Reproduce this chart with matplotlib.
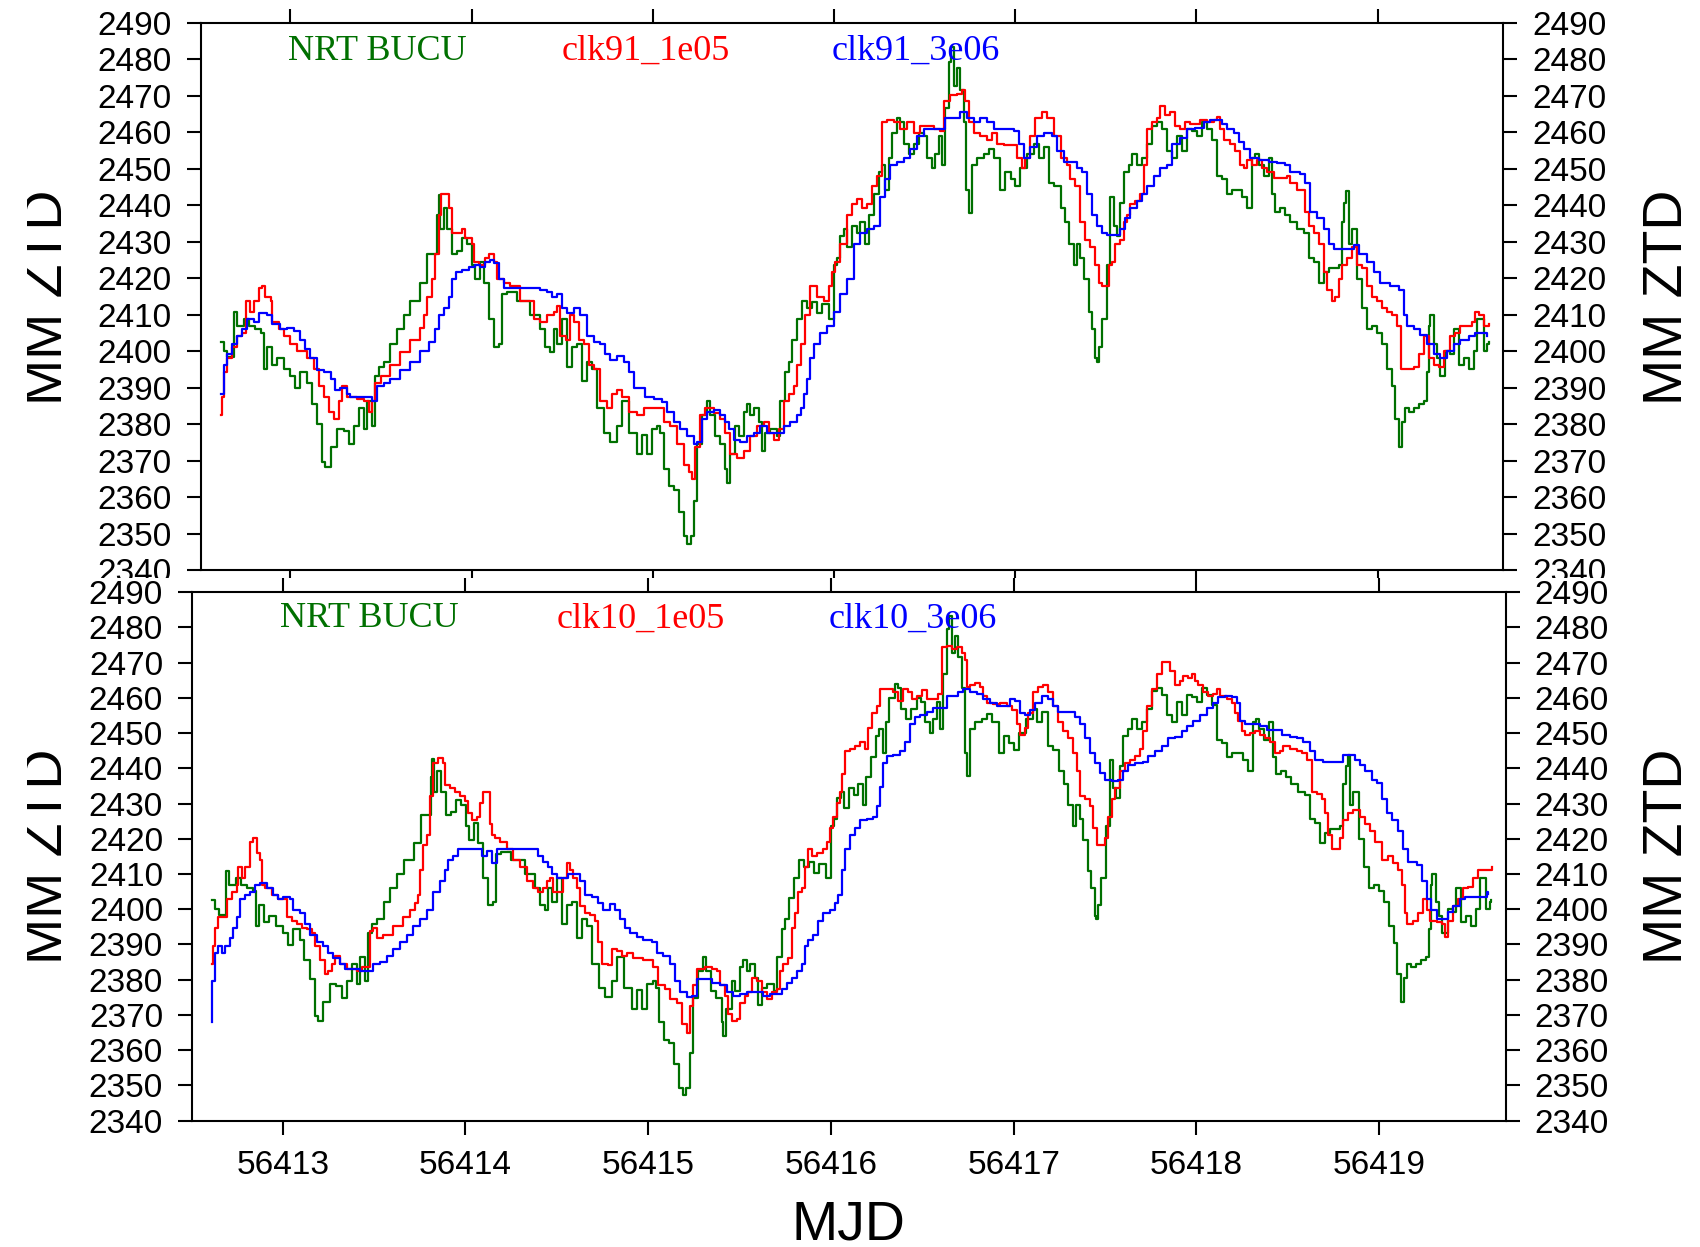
#!/usr/bin/env python3
"""
ZTD comparison at BUCU: NRT solution vs. two clock-constraint runs,
clk91 (top panel) and clk10 (bottom panel). Writes out.png.
"""

import numpy as np
import matplotlib
matplotlib.use("Agg")
import matplotlib.pyplot as plt
from matplotlib.patches import Rectangle
from matplotlib.ticker import FormatStrFormatter

plt.rcParams["font.family"] = ["Liberation Sans", "DejaVu Sans"]

# ---- data: (MJD, ZTD mm) ----
nrt_bucu = [
    (56412.614, 2402.6), (56412.632, 2400.2), (56412.650, 2398.5), (56412.687, 2410.9),
    (56412.706, 2407.0), (56412.743, 2409.0), (56412.770, 2407.0), (56412.807, 2406.0),
    (56412.835, 2405.1), (56412.853, 2395.3), (56412.871, 2401.2), (56412.899, 2396.3),
    (56412.926, 2398.2), (56412.963, 2395.3), (56413.000, 2393.3), (56413.027, 2389.9),
    (56413.055, 2394.3), (56413.092, 2391.4), (56413.119, 2385.5), (56413.147, 2380.1),
    (56413.175, 2369.8), (56413.193, 2368.4), (56413.221, 2373.8), (56413.257, 2378.7),
    (56413.294, 2378.2), (56413.322, 2374.7), (56413.350, 2379.6), (56413.377, 2384.5),
    (56413.405, 2378.7), (56413.423, 2386.5), (56413.451, 2379.6), (56413.469, 2393.3),
    (56413.488, 2395.8), (56413.515, 2397.2), (56413.552, 2402.1), (56413.589, 2406.0),
    (56413.625, 2410.0), (56413.662, 2413.9), (56413.717, 2418.8), (56413.754, 2426.6),
    (56413.791, 2426.6), (56413.809, 2437.4), (56413.819, 2442.7), (56413.828, 2433.4),
    (56413.846, 2439.3), (56413.865, 2433.4), (56413.892, 2426.6), (56413.920, 2427.6),
    (56413.947, 2431.0), (56413.975, 2429.5), (56414.002, 2423.7), (56414.021, 2419.7),
    (56414.048, 2424.6), (56414.067, 2418.8), (56414.094, 2409.0), (56414.122, 2401.2),
    (56414.150, 2402.1), (56414.168, 2415.8), (56414.196, 2416.3), (56414.251, 2413.9),
    (56414.324, 2410.0), (56414.380, 2406.0), (56414.407, 2401.2), (56414.435, 2399.7),
    (56414.453, 2406.0), (56414.472, 2402.1), (56414.499, 2409.0), (56414.527, 2395.8),
    (56414.554, 2401.2), (56414.582, 2402.1), (56414.609, 2391.9), (56414.637, 2397.2),
    (56414.665, 2395.3), (56414.692, 2384.5), (56414.729, 2377.7), (56414.766, 2375.2),
    (56414.803, 2379.6), (56414.830, 2386.5), (56414.867, 2377.7), (56414.913, 2371.8),
    (56414.941, 2377.2), (56414.968, 2371.8), (56414.996, 2378.7), (56415.024, 2379.6),
    (56415.042, 2377.7), (56415.060, 2367.9), (56415.088, 2363.0), (56415.116, 2362.0),
    (56415.143, 2356.1), (56415.171, 2349.3), (56415.189, 2347.3), (56415.208, 2349.3),
    (56415.226, 2359.1), (56415.244, 2374.7), (56415.272, 2382.6), (56415.299, 2386.5),
    (56415.318, 2382.6), (56415.345, 2376.7), (56415.373, 2374.7), (56415.401, 2367.9),
    (56415.410, 2364.0), (56415.428, 2371.8), (56415.456, 2379.6), (56415.474, 2376.7),
    (56415.502, 2383.5), (56415.520, 2385.5), (56415.539, 2382.6), (56415.557, 2384.5),
    (56415.585, 2380.6), (56415.603, 2372.8), (56415.621, 2377.7), (56415.649, 2378.7),
    (56415.686, 2376.7), (56415.704, 2386.5), (56415.732, 2394.3), (56415.750, 2397.2),
    (56415.768, 2403.1), (56415.796, 2409.0), (56415.824, 2413.9), (56415.851, 2411.9),
    (56415.879, 2413.4), (56415.907, 2410.4), (56415.934, 2412.9), (56415.971, 2409.0),
    (56415.999, 2423.7), (56416.017, 2425.6), (56416.035, 2431.5), (56416.054, 2433.4),
    (56416.072, 2428.6), (56416.100, 2434.4), (56416.127, 2432.5), (56416.146, 2435.4),
    (56416.173, 2429.5), (56416.192, 2437.4), (56416.219, 2443.2), (56416.247, 2449.1),
    (56416.265, 2451.1), (56416.284, 2444.2), (56416.302, 2453.0), (56416.320, 2459.9),
    (56416.348, 2463.8), (56416.366, 2462.8), (56416.385, 2456.9), (56416.412, 2454.0),
    (56416.440, 2456.9), (56416.468, 2459.9), (56416.495, 2458.9), (56416.513, 2453.0),
    (56416.541, 2450.1), (56416.559, 2454.0), (56416.578, 2458.9), (56416.596, 2451.1),
    (56416.615, 2466.7), (56416.633, 2479.4), (56416.648, 2483.3), (56416.664, 2472.6),
    (56416.679, 2477.5), (56416.697, 2471.6), (56416.716, 2462.8), (56416.731, 2444.2),
    (56416.744, 2437.8), (56416.762, 2451.1), (56416.790, 2453.0), (56416.826, 2454.0),
    (56416.854, 2455.5), (56416.881, 2453.0), (56416.918, 2444.2), (56416.946, 2449.1),
    (56416.974, 2447.2), (56417.001, 2445.2), (56417.029, 2450.1), (56417.066, 2454.0),
    (56417.103, 2456.9), (56417.130, 2453.0), (56417.157, 2455.9), (56417.185, 2446.2),
    (56417.213, 2445.2), (56417.250, 2439.3), (56417.277, 2435.4), (56417.296, 2429.5),
    (56417.323, 2423.7), (56417.341, 2429.5), (56417.360, 2425.6), (56417.378, 2419.7),
    (56417.406, 2410.9), (56417.424, 2406.0), (56417.443, 2398.2), (56417.452, 2397.2),
    (56417.461, 2401.2), (56417.479, 2409.0), (56417.507, 2423.7), (56417.525, 2442.3),
    (56417.544, 2434.4), (56417.562, 2431.5), (56417.581, 2440.7), (56417.599, 2449.1),
    (56417.627, 2451.1), (56417.645, 2454.0), (56417.673, 2451.1), (56417.700, 2453.0),
    (56417.728, 2456.9), (56417.755, 2461.8), (56417.783, 2462.8), (56417.811, 2460.8),
    (56417.838, 2455.0), (56417.866, 2453.0), (56417.893, 2458.9), (56417.921, 2455.0),
    (56417.948, 2460.8), (56417.976, 2460.3), (56418.004, 2458.9), (56418.031, 2462.8),
    (56418.059, 2460.8), (56418.086, 2457.9), (56418.114, 2448.1), (56418.142, 2447.1),
    (56418.169, 2443.2), (56418.197, 2444.2), (56418.224, 2444.2), (56418.252, 2442.3),
    (56418.280, 2439.3), (56418.307, 2453.0), (56418.326, 2454.0), (56418.344, 2451.1),
    (56418.372, 2448.1), (56418.399, 2453.0), (56418.418, 2443.2), (56418.436, 2438.3),
    (56418.464, 2439.3), (56418.491, 2437.4), (56418.519, 2435.4), (56418.556, 2433.4),
    (56418.592, 2432.5), (56418.620, 2425.6), (56418.647, 2424.6), (56418.675, 2418.8),
    (56418.703, 2421.7), (56418.730, 2422.7), (56418.758, 2422.7), (56418.786, 2423.7),
    (56418.804, 2435.4), (56418.817, 2440.7), (56418.828, 2443.8), (56418.841, 2429.5),
    (56418.859, 2433.4), (56418.887, 2419.8), (56418.914, 2411.9), (56418.942, 2406.0),
    (56418.969, 2407.0), (56418.997, 2405.1), (56419.025, 2402.1), (56419.052, 2395.3),
    (56419.080, 2390.4), (56419.098, 2381.6), (56419.117, 2373.8), (56419.135, 2380.6),
    (56419.153, 2384.5), (56419.172, 2383.5), (56419.199, 2384.5), (56419.227, 2385.5),
    (56419.255, 2386.5), (56419.273, 2394.3), (56419.282, 2407.0), (56419.291, 2410.0),
    (56419.310, 2402.1), (56419.328, 2398.2), (56419.346, 2393.3), (56419.374, 2400.2),
    (56419.402, 2399.2), (56419.420, 2406.0), (56419.448, 2396.3), (56419.475, 2398.2),
    (56419.503, 2395.3), (56419.530, 2400.2), (56419.549, 2409.0), (56419.567, 2409.0),
    (56419.586, 2400.2), (56419.604, 2402.1), (56419.613, 2402.6),
]

clk91_1e05 = [
    (56412.614, 2382.6), (56412.623, 2387.5), (56412.632, 2394.3), (56412.650, 2398.2),
    (56412.678, 2401.2), (56412.706, 2404.1), (56412.733, 2405.1), (56412.752, 2413.9),
    (56412.779, 2410.9), (56412.798, 2413.9), (56412.825, 2417.3), (56412.844, 2417.8),
    (56412.862, 2414.9), (56412.890, 2413.9), (56412.899, 2408.0), (56412.936, 2406.0),
    (56412.963, 2404.1), (56413.000, 2402.1), (56413.037, 2400.2), (56413.092, 2398.2),
    (56413.129, 2395.3), (56413.156, 2390.4), (56413.184, 2387.5), (56413.211, 2383.5),
    (56413.239, 2381.6), (56413.266, 2386.5), (56413.285, 2390.4), (56413.312, 2387.5),
    (56413.368, 2387.0), (56413.405, 2386.5), (56413.432, 2383.5), (56413.451, 2386.5),
    (56413.469, 2391.4), (56413.497, 2393.3), (56413.552, 2396.3), (56413.607, 2399.7),
    (56413.662, 2403.1), (56413.717, 2406.5), (56413.736, 2410.0), (56413.754, 2414.9),
    (56413.782, 2419.7), (56413.800, 2426.6), (56413.819, 2437.4), (56413.831, 2443.2),
    (56413.855, 2443.2), (56413.874, 2439.3), (56413.892, 2432.5), (56413.920, 2432.5),
    (56413.947, 2433.4), (56413.966, 2431.0), (56414.002, 2429.5), (56414.012, 2424.6),
    (56414.039, 2423.7), (56414.076, 2425.6), (56414.094, 2426.6), (56414.122, 2424.6),
    (56414.140, 2419.7), (56414.177, 2418.8), (56414.214, 2417.8), (56414.269, 2413.9),
    (56414.343, 2409.0), (56414.380, 2408.0), (56414.416, 2410.0), (56414.453, 2410.9),
    (56414.472, 2412.4), (56414.490, 2404.1), (56414.518, 2403.1), (56414.545, 2410.0),
    (56414.564, 2408.0), (56414.591, 2403.1), (56414.619, 2402.1), (56414.646, 2396.3),
    (56414.674, 2395.3), (56414.711, 2386.5), (56414.748, 2384.5), (56414.775, 2388.4),
    (56414.803, 2389.4), (56414.830, 2387.5), (56414.867, 2383.5), (56414.913, 2382.6),
    (56414.950, 2384.5), (56415.042, 2384.5), (56415.060, 2380.6), (56415.097, 2379.6),
    (56415.134, 2374.7), (56415.171, 2368.9), (56415.198, 2366.9), (56415.217, 2365.0),
    (56415.235, 2373.8), (56415.263, 2382.6), (56415.290, 2384.5), (56415.336, 2383.0),
    (56415.373, 2381.6), (56415.401, 2377.7), (56415.428, 2371.8), (56415.465, 2370.8),
    (56415.502, 2372.8), (56415.539, 2376.7), (56415.575, 2379.6), (56415.612, 2380.6),
    (56415.640, 2377.7), (56415.667, 2375.7), (56415.695, 2378.7), (56415.723, 2386.5),
    (56415.750, 2388.4), (56415.778, 2390.4), (56415.796, 2396.3), (56415.815, 2402.1),
    (56415.842, 2410.0), (56415.870, 2417.8), (56415.907, 2414.9), (56415.943, 2413.9),
    (56415.971, 2417.8), (56415.990, 2421.7), (56416.008, 2424.6), (56416.035, 2429.5),
    (56416.072, 2437.4), (56416.100, 2440.3), (56416.127, 2441.8), (56416.155, 2439.3),
    (56416.182, 2440.3), (56416.210, 2445.2), (56416.238, 2448.1), (56416.265, 2462.8),
    (56416.293, 2463.3), (56416.330, 2462.8), (56416.366, 2460.8), (56416.403, 2462.8),
    (56416.440, 2459.9), (56416.477, 2461.8), (56416.514, 2461.8), (56416.550, 2460.8),
    (56416.587, 2460.3), (56416.606, 2468.7), (56416.642, 2470.1), (56416.679, 2470.6),
    (56416.707, 2471.6), (56416.725, 2468.7), (56416.744, 2462.8), (56416.771, 2459.9),
    (56416.808, 2458.9), (56416.845, 2457.9), (56416.872, 2459.9), (56416.900, 2456.9),
    (56416.937, 2456.4), (56416.983, 2456.4), (56417.010, 2453.0), (56417.038, 2450.1),
    (56417.056, 2453.0), (56417.084, 2458.9), (56417.111, 2463.8), (56417.148, 2465.7),
    (56417.176, 2463.8), (56417.213, 2458.9), (56417.250, 2453.0), (56417.286, 2451.1),
    (56417.305, 2447.1), (56417.332, 2445.2), (56417.360, 2435.4), (56417.387, 2430.5),
    (56417.415, 2428.6), (56417.443, 2423.7), (56417.461, 2418.8), (56417.479, 2417.8),
    (56417.498, 2417.8), (56417.516, 2423.7), (56417.535, 2424.6), (56417.553, 2429.5),
    (56417.581, 2430.5), (56417.599, 2435.4), (56417.617, 2437.4), (56417.636, 2440.3),
    (56417.663, 2441.3), (56417.691, 2443.2), (56417.709, 2451.1), (56417.728, 2460.8),
    (56417.755, 2462.8), (56417.783, 2463.8), (56417.801, 2467.2), (56417.829, 2464.8),
    (56417.857, 2465.7), (56417.884, 2461.8), (56417.912, 2460.8), (56417.939, 2462.8),
    (56417.967, 2462.3), (56417.994, 2462.3), (56418.022, 2463.3), (56418.059, 2462.8),
    (56418.096, 2463.3), (56418.114, 2464.3), (56418.132, 2460.8), (56418.151, 2457.9),
    (56418.188, 2456.9), (56418.215, 2455.0), (56418.243, 2451.1), (56418.261, 2450.1),
    (56418.280, 2452.5), (56418.307, 2451.1), (56418.335, 2452.5), (56418.362, 2450.1),
    (56418.390, 2449.1), (56418.427, 2447.6), (56418.464, 2447.6), (56418.500, 2448.1),
    (56418.519, 2446.2), (56418.556, 2444.2), (56418.583, 2444.2), (56418.601, 2438.3),
    (56418.620, 2434.4), (56418.647, 2432.5), (56418.675, 2429.5), (56418.703, 2421.7),
    (56418.721, 2416.8), (56418.749, 2413.9), (56418.767, 2414.9), (56418.786, 2419.7),
    (56418.804, 2423.7), (56418.831, 2425.6), (56418.859, 2428.6), (56418.887, 2423.7),
    (56418.914, 2422.7), (56418.942, 2417.8), (56418.969, 2414.9), (56418.997, 2413.9),
    (56419.025, 2411.9), (56419.052, 2410.9), (56419.080, 2410.0), (56419.108, 2407.0),
    (56419.130, 2395.3), (56419.163, 2395.3), (56419.199, 2395.8), (56419.227, 2399.2),
    (56419.255, 2404.1), (56419.282, 2398.2), (56419.310, 2396.3), (56419.337, 2395.8),
    (56419.365, 2400.2), (56419.402, 2404.1), (56419.429, 2405.1), (56419.457, 2407.0),
    (56419.494, 2407.0), (56419.521, 2408.0), (56419.540, 2410.9), (56419.558, 2410.0),
    (56419.586, 2407.0), (56419.613, 2407.5),
]

clk91_3e06 = [
    (56412.614, 2388.4), (56412.632, 2396.3), (56412.650, 2399.2), (56412.678, 2402.1),
    (56412.706, 2404.1), (56412.733, 2406.0), (56412.761, 2409.0), (56412.798, 2408.0),
    (56412.825, 2410.4), (56412.871, 2410.0), (56412.899, 2407.5), (56412.945, 2406.0),
    (56412.982, 2406.5), (56413.018, 2405.6), (56413.055, 2403.1), (56413.083, 2400.7),
    (56413.110, 2398.2), (56413.147, 2394.8), (56413.184, 2394.3), (56413.221, 2392.3),
    (56413.248, 2389.4), (56413.276, 2389.9), (56413.313, 2388.4), (56413.331, 2387.5),
    (56413.423, 2387.5), (56413.451, 2386.5), (56413.478, 2390.4), (56413.515, 2391.4),
    (56413.552, 2392.3), (56413.607, 2394.8), (56413.662, 2397.2), (56413.717, 2400.2),
    (56413.763, 2402.6), (56413.800, 2406.0), (56413.819, 2410.0), (56413.846, 2411.9),
    (56413.874, 2414.9), (56413.892, 2419.7), (56413.911, 2421.7), (56413.947, 2422.2),
    (56413.984, 2423.2), (56414.021, 2423.7), (56414.048, 2423.2), (56414.076, 2424.6),
    (56414.104, 2425.1), (56414.122, 2424.1), (56414.150, 2419.7), (56414.177, 2417.3),
    (56414.288, 2417.3), (56414.380, 2416.8), (56414.416, 2416.3), (56414.444, 2414.9),
    (56414.472, 2415.8), (56414.499, 2411.9), (56414.527, 2410.4), (56414.564, 2411.9),
    (56414.600, 2410.0), (56414.637, 2404.1), (56414.674, 2402.6), (56414.711, 2402.1),
    (56414.738, 2399.2), (56414.766, 2397.7), (56414.803, 2398.7), (56414.840, 2397.2),
    (56414.867, 2394.3), (56414.895, 2389.9), (56414.931, 2389.9), (56414.959, 2387.5),
    (56415.005, 2387.0), (56415.051, 2386.0), (56415.079, 2383.5), (56415.116, 2380.6),
    (56415.152, 2378.7), (56415.189, 2376.7), (56415.226, 2374.7), (56415.244, 2375.2),
    (56415.272, 2381.6), (56415.299, 2383.5), (56415.336, 2384.0), (56415.373, 2382.6),
    (56415.401, 2380.6), (56415.419, 2378.7), (56415.447, 2375.7), (56415.483, 2375.2),
    (56415.520, 2376.7), (56415.557, 2377.7), (56415.594, 2379.6), (56415.631, 2377.7),
    (56415.686, 2377.7), (56415.723, 2379.6), (56415.759, 2380.6), (56415.796, 2382.6),
    (56415.815, 2384.5), (56415.833, 2388.4), (56415.851, 2392.3), (56415.870, 2398.2),
    (56415.888, 2402.1), (56415.925, 2405.1), (56415.962, 2407.0), (56415.999, 2410.9),
    (56416.035, 2415.8), (56416.072, 2419.7), (56416.109, 2429.5), (56416.146, 2432.5),
    (56416.182, 2433.4), (56416.219, 2434.4), (56416.256, 2442.3), (56416.284, 2447.1),
    (56416.311, 2451.1), (56416.348, 2452.0), (56416.385, 2453.0), (56416.421, 2455.5),
    (56416.458, 2458.9), (56416.495, 2460.8), (56416.596, 2460.8), (56416.615, 2463.8),
    (56416.652, 2463.8), (56416.698, 2465.7), (56416.734, 2463.8), (56416.771, 2462.8),
    (56416.808, 2463.8), (56416.845, 2462.8), (56416.881, 2460.8), (56416.937, 2460.8),
    (56416.992, 2460.3), (56417.020, 2456.9), (56417.047, 2453.0), (56417.084, 2455.9),
    (56417.121, 2458.9), (56417.157, 2459.9), (56417.203, 2458.9), (56417.231, 2455.0),
    (56417.268, 2452.0), (56417.305, 2452.0), (56417.341, 2450.1), (56417.369, 2449.1),
    (56417.397, 2443.2), (56417.424, 2437.4), (56417.452, 2434.4), (56417.479, 2432.5),
    (56417.507, 2432.0), (56417.553, 2432.0), (56417.581, 2433.4), (56417.608, 2436.4),
    (56417.636, 2439.3), (56417.673, 2441.3), (56417.700, 2443.2), (56417.728, 2445.2),
    (56417.765, 2448.1), (56417.801, 2450.1), (56417.838, 2451.1), (56417.866, 2456.9),
    (56417.912, 2458.4), (56417.948, 2460.8), (56417.994, 2461.3), (56418.040, 2462.8),
    (56418.077, 2463.3), (56418.114, 2463.3), (56418.142, 2462.3), (56418.169, 2460.8),
    (56418.206, 2459.9), (56418.234, 2457.4), (56418.261, 2455.5), (56418.298, 2453.0),
    (56418.344, 2452.5), (56418.399, 2452.0), (56418.445, 2451.6), (56418.491, 2451.1),
    (56418.519, 2449.1), (56418.574, 2448.6), (56418.601, 2446.2), (56418.629, 2438.3),
    (56418.666, 2436.4), (56418.703, 2433.4), (56418.730, 2429.5), (56418.758, 2428.1),
    (56418.831, 2428.1), (56418.868, 2429.0), (56418.896, 2426.6), (56418.942, 2424.6),
    (56418.978, 2421.7), (56419.015, 2418.8), (56419.070, 2417.8), (56419.117, 2416.8),
    (56419.144, 2410.0), (56419.163, 2407.0), (56419.199, 2406.0), (56419.236, 2404.6),
    (56419.273, 2402.1), (56419.310, 2399.2), (56419.346, 2398.2), (56419.383, 2400.2),
    (56419.420, 2402.1), (56419.457, 2403.1), (56419.503, 2404.1), (56419.540, 2405.1),
    (56419.576, 2405.1), (56419.604, 2404.1),
]

clk10_1e05 = [
    (56412.611, 2384.6), (56412.620, 2389.7), (56412.630, 2394.8), (56412.648, 2397.8),
    (56412.675, 2397.8), (56412.693, 2402.9), (56412.721, 2404.9), (56412.748, 2406.9),
    (56412.757, 2412.0), (56412.775, 2409.0), (56412.794, 2412.0), (56412.821, 2419.1),
    (56412.839, 2420.1), (56412.857, 2416.0), (56412.876, 2414.0), (56412.885, 2406.9),
    (56412.903, 2405.9), (56412.940, 2403.9), (56412.976, 2402.9), (56413.003, 2402.9),
    (56413.022, 2397.8), (56413.049, 2396.8), (56413.076, 2395.8), (56413.104, 2394.8),
    (56413.131, 2394.3), (56413.158, 2393.2), (56413.177, 2389.7), (56413.204, 2385.6),
    (56413.231, 2381.6), (56413.250, 2382.6), (56413.268, 2384.6), (56413.286, 2386.7),
    (56413.313, 2384.6), (56413.350, 2383.1), (56413.405, 2382.6), (56413.432, 2383.6),
    (56413.459, 2383.6), (56413.478, 2393.7), (56413.496, 2394.8), (56413.514, 2391.7),
    (56413.550, 2392.7), (56413.605, 2395.3), (56413.660, 2397.8), (56413.696, 2399.8),
    (56413.724, 2401.9), (56413.742, 2403.9), (56413.751, 2411.0), (56413.769, 2418.1),
    (56413.788, 2421.1), (56413.806, 2432.2), (56413.824, 2441.4), (56413.851, 2442.9),
    (56413.879, 2441.4), (56413.888, 2435.3), (56413.915, 2434.3), (56413.943, 2433.3),
    (56413.970, 2432.2), (56413.997, 2430.7), (56414.016, 2427.2), (56414.034, 2425.2),
    (56414.061, 2426.2), (56414.080, 2430.2), (56414.098, 2433.3), (56414.116, 2433.3),
    (56414.134, 2424.1), (56414.143, 2421.1), (56414.161, 2420.1), (56414.189, 2419.1),
    (56414.225, 2417.1), (56414.262, 2414.0), (56414.298, 2412.0), (56414.335, 2407.9),
    (56414.371, 2405.9), (56414.399, 2404.9), (56414.426, 2405.9), (56414.444, 2407.9),
    (56414.463, 2408.9), (56414.481, 2404.9), (56414.508, 2404.9), (56414.535, 2408.9),
    (56414.554, 2413.0), (56414.572, 2411.0), (56414.590, 2408.9), (56414.608, 2405.9),
    (56414.627, 2400.8), (56414.654, 2398.8), (56414.681, 2398.3), (56414.709, 2396.8),
    (56414.727, 2390.7), (56414.745, 2384.6), (56414.782, 2384.1), (56414.800, 2388.7),
    (56414.827, 2388.2), (56414.854, 2386.7), (56414.882, 2387.7), (56414.918, 2386.1),
    (56414.973, 2385.6), (56415.028, 2383.6), (56415.055, 2378.5), (56415.092, 2377.5),
    (56415.119, 2374.5), (56415.156, 2373.5), (56415.183, 2367.4), (56415.210, 2364.9),
    (56415.228, 2372.5), (56415.247, 2378.5), (56415.265, 2383.1), (56415.311, 2383.6),
    (56415.347, 2383.1), (56415.374, 2382.6), (56415.393, 2378.5), (56415.420, 2375.5),
    (56415.438, 2370.4), (56415.456, 2368.4), (56415.484, 2368.9), (56415.502, 2373.5),
    (56415.529, 2375.5), (56415.548, 2376.5), (56415.566, 2380.6), (56415.593, 2379.6),
    (56415.621, 2376.5), (56415.648, 2374.5), (56415.675, 2376.5), (56415.703, 2377.5),
    (56415.721, 2382.6), (56415.739, 2384.6), (56415.767, 2386.1), (56415.785, 2394.8),
    (56415.803, 2398.8), (56415.821, 2404.9), (56415.840, 2405.9), (56415.858, 2412.0),
    (56415.876, 2417.1), (56415.894, 2415.0), (56415.922, 2416.1), (56415.958, 2417.1),
    (56415.976, 2419.1), (56415.994, 2423.1), (56416.013, 2426.2), (56416.031, 2430.2),
    (56416.049, 2433.3), (56416.058, 2438.3), (56416.077, 2444.9), (56416.104, 2445.4),
    (56416.131, 2446.4), (56416.159, 2447.4), (56416.186, 2445.4), (56416.204, 2451.5),
    (56416.222, 2455.6), (56416.250, 2457.6), (56416.268, 2462.6), (56416.305, 2462.6),
    (56416.341, 2461.6), (56416.368, 2459.1), (56416.396, 2462.6), (56416.423, 2461.6),
    (56416.441, 2459.6), (56416.469, 2460.6), (56416.496, 2462.1), (56416.524, 2459.6),
    (56416.560, 2459.6), (56416.587, 2461.1), (56416.605, 2474.3), (56416.633, 2474.8),
    (56416.660, 2473.8), (56416.688, 2474.3), (56416.715, 2472.8), (56416.733, 2470.7),
    (56416.742, 2463.2), (56416.761, 2463.7), (56416.788, 2464.2), (56416.815, 2463.2),
    (56416.833, 2460.6), (56416.852, 2458.6), (56416.888, 2458.1), (56416.925, 2458.6),
    (56416.961, 2457.6), (56416.989, 2456.6), (56417.016, 2452.5), (56417.034, 2449.5),
    (56417.061, 2451.5), (56417.080, 2455.6), (56417.107, 2461.6), (56417.134, 2463.2),
    (56417.162, 2463.7), (56417.189, 2461.6), (56417.217, 2457.6), (56417.244, 2453.0),
    (56417.271, 2450.5), (56417.299, 2448.5), (56417.326, 2444.4), (56417.344, 2439.3),
    (56417.362, 2432.2), (56417.390, 2431.2), (56417.417, 2429.2), (56417.435, 2423.1),
    (56417.454, 2418.1), (56417.481, 2418.1), (56417.499, 2420.1), (56417.517, 2426.2),
    (56417.536, 2431.2), (56417.554, 2434.3), (56417.581, 2439.3), (56417.609, 2441.4),
    (56417.636, 2442.4), (56417.663, 2443.4), (56417.691, 2445.4), (56417.709, 2450.5),
    (56417.727, 2457.6), (56417.754, 2462.6), (56417.782, 2466.7), (56417.809, 2470.2),
    (56417.837, 2470.2), (56417.855, 2467.7), (56417.882, 2463.7), (56417.910, 2464.7),
    (56417.928, 2466.2), (56417.955, 2465.7), (56417.973, 2466.7), (56417.992, 2464.7),
    (56418.010, 2463.7), (56418.037, 2461.6), (56418.064, 2460.6), (56418.092, 2461.1),
    (56418.110, 2462.6), (56418.128, 2460.6), (56418.165, 2459.6), (56418.192, 2458.6),
    (56418.210, 2455.6), (56418.229, 2453.5), (56418.247, 2450.5), (56418.265, 2449.5),
    (56418.292, 2450.0), (56418.320, 2450.5), (56418.347, 2449.5), (56418.375, 2448.5),
    (56418.402, 2447.4), (56418.429, 2444.4), (56418.457, 2444.9), (56418.475, 2446.4),
    (56418.511, 2445.4), (56418.548, 2444.9), (56418.575, 2444.4), (56418.603, 2442.4),
    (56418.630, 2433.3), (56418.657, 2432.8), (56418.685, 2431.2), (56418.703, 2427.2),
    (56418.721, 2421.1), (56418.739, 2417.1), (56418.767, 2417.1), (56418.785, 2420.1),
    (56418.803, 2425.2), (56418.831, 2427.2), (56418.858, 2428.2), (56418.894, 2426.2),
    (56418.922, 2424.1), (56418.949, 2422.1), (56418.976, 2419.1), (56419.013, 2414.0),
    (56419.049, 2415.0), (56419.077, 2413.0), (56419.104, 2411.0), (56419.122, 2406.9),
    (56419.141, 2398.8), (56419.150, 2395.8), (56419.186, 2396.8), (56419.214, 2398.8),
    (56419.241, 2402.9), (56419.259, 2399.8), (56419.277, 2396.8), (56419.314, 2396.3),
    (56419.341, 2395.8), (56419.359, 2392.2), (56419.378, 2396.8), (56419.405, 2400.8),
    (56419.432, 2402.9), (56419.460, 2405.9), (56419.487, 2406.4), (56419.514, 2408.9),
    (56419.542, 2411.0), (56419.597, 2411.0), (56419.615, 2412.0),
]

clk10_3e06 = [
    (56412.611, 2367.9), (56412.615, 2379.6), (56412.630, 2387.7), (56412.648, 2389.7),
    (56412.666, 2387.7), (56412.684, 2389.7), (56412.712, 2391.7), (56412.730, 2394.8),
    (56412.748, 2397.8), (56412.766, 2402.9), (56412.794, 2403.9), (56412.821, 2404.9),
    (56412.848, 2406.9), (56412.876, 2407.4), (56412.912, 2405.9), (56412.949, 2403.9),
    (56412.976, 2402.9), (56413.003, 2403.4), (56413.040, 2402.9), (56413.058, 2399.8),
    (56413.095, 2398.8), (56413.122, 2395.8), (56413.149, 2392.7), (56413.186, 2390.7),
    (56413.222, 2389.7), (56413.250, 2387.7), (56413.277, 2386.1), (56413.313, 2384.6),
    (56413.341, 2383.1), (56413.386, 2383.1), (56413.423, 2382.6), (56413.459, 2382.6),
    (56413.496, 2384.6), (56413.532, 2385.1), (56413.569, 2386.7), (56413.605, 2388.7),
    (56413.642, 2390.7), (56413.678, 2392.7), (56413.715, 2395.3), (56413.751, 2397.3),
    (56413.788, 2399.8), (56413.824, 2404.9), (56413.861, 2407.9), (56413.888, 2411.0),
    (56413.906, 2414.0), (56413.934, 2415.0), (56413.961, 2417.1), (56414.006, 2417.1),
    (56414.061, 2417.1), (56414.089, 2415.0), (56414.116, 2416.6), (56414.143, 2413.0),
    (56414.171, 2417.1), (56414.225, 2417.1), (56414.298, 2417.1), (56414.371, 2417.1),
    (56414.399, 2415.0), (56414.426, 2413.5), (56414.453, 2412.0), (56414.472, 2410.0),
    (56414.499, 2408.9), (56414.535, 2408.9), (56414.563, 2410.0), (56414.599, 2410.0),
    (56414.627, 2407.9), (56414.654, 2403.9), (56414.690, 2403.4), (56414.727, 2401.9),
    (56414.754, 2399.8), (56414.791, 2401.4), (56414.818, 2399.8), (56414.845, 2397.3),
    (56414.873, 2394.8), (56414.900, 2393.2), (56414.937, 2392.2), (56414.973, 2391.2),
    (56415.019, 2390.7), (56415.046, 2387.7), (56415.083, 2386.7), (56415.119, 2384.6),
    (56415.146, 2379.6), (56415.174, 2376.5), (56415.210, 2375.0), (56415.238, 2375.5),
    (56415.265, 2380.1), (56415.301, 2380.1), (56415.347, 2379.1), (56415.393, 2378.5),
    (56415.429, 2376.5), (56415.466, 2375.5), (56415.502, 2376.0), (56415.539, 2376.5),
    (56415.575, 2376.5), (56415.630, 2375.5), (56415.666, 2376.0), (56415.703, 2376.0),
    (56415.730, 2377.5), (56415.757, 2379.1), (56415.785, 2380.6), (56415.812, 2382.6),
    (56415.840, 2384.6), (56415.858, 2389.7), (56415.876, 2391.2), (56415.903, 2392.7),
    (56415.931, 2396.8), (56415.958, 2398.8), (56415.994, 2399.8), (56416.022, 2401.9),
    (56416.040, 2403.9), (56416.058, 2411.0), (56416.077, 2417.1), (56416.104, 2421.1),
    (56416.131, 2423.1), (56416.159, 2425.2), (56416.195, 2425.7), (56416.232, 2426.2),
    (56416.250, 2429.2), (56416.268, 2434.7), (56416.286, 2441.4), (56416.305, 2443.4),
    (56416.341, 2443.9), (56416.378, 2444.9), (56416.405, 2447.4), (56416.432, 2452.5),
    (56416.460, 2454.5), (56416.487, 2455.0), (56416.524, 2456.0), (56416.560, 2457.1),
    (56416.596, 2457.1), (56416.633, 2460.6), (56416.669, 2460.6), (56416.697, 2461.6),
    (56416.724, 2462.6), (56416.761, 2461.6), (56416.797, 2461.1), (56416.833, 2459.6),
    (56416.870, 2458.6), (56416.907, 2457.6), (56416.943, 2457.6), (56416.979, 2459.6),
    (56417.007, 2459.1), (56417.034, 2455.6), (56417.061, 2455.1), (56417.089, 2456.6),
    (56417.116, 2458.6), (56417.153, 2460.6), (56417.189, 2459.6), (56417.217, 2457.6),
    (56417.244, 2456.0), (56417.299, 2456.1), (56417.335, 2454.5), (56417.362, 2452.5),
    (56417.390, 2448.5), (56417.417, 2444.4), (56417.444, 2441.4), (56417.472, 2438.8),
    (56417.499, 2436.8), (56417.536, 2436.3), (56417.572, 2436.8), (56417.599, 2439.3),
    (56417.627, 2440.9), (56417.663, 2441.4), (56417.709, 2441.9), (56417.736, 2443.4),
    (56417.773, 2444.9), (56417.809, 2446.4), (56417.846, 2448.5), (56417.882, 2449.0),
    (56417.919, 2450.5), (56417.946, 2452.0), (56417.982, 2453.5), (56418.019, 2455.0),
    (56418.055, 2457.1), (56418.092, 2458.6), (56418.119, 2460.1), (56418.156, 2460.6),
    (56418.192, 2460.1), (56418.220, 2458.6), (56418.238, 2453.5), (56418.265, 2452.5),
    (56418.302, 2452.5), (56418.347, 2452.0), (56418.384, 2451.0), (56418.420, 2451.0),
    (56418.466, 2449.5), (56418.511, 2449.0), (56418.548, 2448.5), (56418.584, 2447.4),
    (56418.621, 2444.9), (56418.648, 2442.4), (56418.694, 2441.9), (56418.739, 2441.9),
    (56418.776, 2441.9), (56418.803, 2443.9), (56418.840, 2443.9), (56418.867, 2442.4),
    (56418.894, 2440.9), (56418.922, 2439.3), (56418.958, 2436.8), (56418.986, 2435.8),
    (56419.013, 2431.2), (56419.040, 2427.2), (56419.068, 2425.2), (56419.104, 2422.1),
    (56419.131, 2417.1), (56419.159, 2413.5), (56419.204, 2412.5), (56419.232, 2407.9),
    (56419.259, 2402.9), (56419.286, 2399.8), (56419.314, 2397.3), (56419.350, 2397.3),
    (56419.378, 2399.3), (56419.405, 2400.8), (56419.441, 2402.9), (56419.469, 2403.4),
    (56419.514, 2403.4), (56419.560, 2403.4), (56419.587, 2404.9), (56419.597, 2404.4),
]

panels = [
    ("clk91_1e05", clk91_1e05, "clk91_3e06", clk91_3e06),
    ("clk10_1e05", clk10_1e05, "clk10_3e06", clk10_3e06),
]

mjd_ticks = np.arange(56413, 56420)
ztd_ticks = np.arange(2340, 2491, 10)

GREEN, RED, BLUE = "#007000", "#ff0000", "#0000ff"

fig = plt.figure(figsize=(17, 12.47), dpi=100)
# [left, bottom, width, height] of the two stacked panels
boxes = [(0.1181, 0.5426, 0.7660, 0.4391), (0.1131, 0.1013, 0.7726, 0.4239)]

for k, ((name1, s1, name2, s2), box) in enumerate(zip(panels, boxes)):
    ax = fig.add_axes(box, zorder=k)
    for series, color in ((nrt_bucu, GREEN), (s1, RED), (s2, BLUE)):
        t, z = np.array(series).T
        ax.plot(t, z, color=color, lw=1.6, drawstyle="steps-post")

    ax.set_xlim(56412.505, 56419.692)
    ax.set_ylim(2340, 2490)
    ax.set_xticks(mjd_ticks)
    ax.set_yticks(ztd_ticks)
    ax.xaxis.set_major_formatter(FormatStrFormatter("%d"))
    ax.tick_params(direction="out", length=10, width=1.5, labelsize=24, pad=11)
    ax.tick_params(axis="y", left=True, right=True, labelleft=True, labelright=True)
    ax.tick_params(axis="x", top=True, bottom=True, labeltop=False, labelbottom=(k == 1))
    for sp in ax.spines.values():
        sp.set_linewidth(1.5)

    for xpos, label, color in ((0.067, "NRT BUCU", GREEN), (0.2774, name1, RED),
                               (0.4847, name2, BLUE)):
        ax.text(xpos, 0.933, label, color=color, transform=ax.transAxes,
                fontsize=26, family=["Liberation Serif", "DejaVu Serif"],
                ha="left", va="baseline")

# bottom panel's frame hides the lower part of the top panel's 2340 labels
fig.add_artist(Rectangle((0, 0.5261), 1, 0.0104, transform=fig.transFigure,
                         facecolor="white", edgecolor="none", zorder=0.5))

for yc in (0.7614, 0.3135):
    fig.text(0.0434, yc, "MM ZTD", rotation=90, fontsize=40, ha="right", va="center")
    fig.text(0.9963, yc, "MM ZTD", rotation=90, fontsize=40, ha="right", va="center")
# left labels are cut at the image edge in the original
fig.add_artist(Rectangle((0, 0), 27 / 1700, 1, transform=fig.transFigure,
                         facecolor="white", edgecolor="none", zorder=10))

fig.text(0.499, 0.006, "MJD", fontsize=40, ha="center", va="baseline")

fig.savefig("out.png", dpi=100, facecolor="white")
